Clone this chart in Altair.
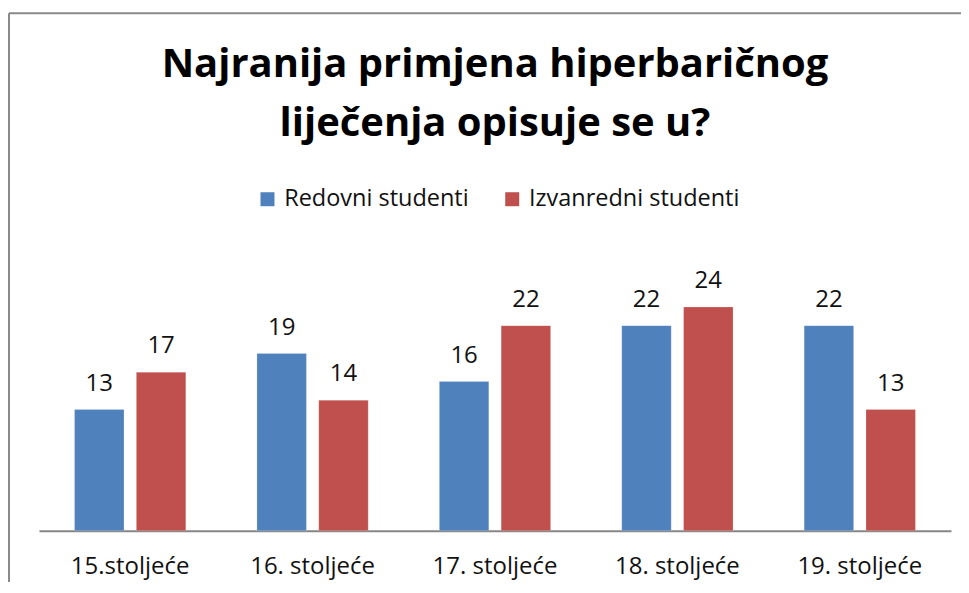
import altair as alt
import pandas as pd

categories = ["15.stoljeće", "16. stoljeće", "17. stoljeće", "18. stoljeće", "19. stoljeće"]
series = ["Redovni studenti", "Izvanredni studenti"]
redovni = [13, 19, 16, 22, 22]
izvanredni = [17, 14, 22, 24, 13]
colors = ["#4F81BD", "#C0504D"]

rows = []
for i, c in enumerate(categories):
    rows.append({"cat": c, "series": series[0], "value": redovni[i]})
    rows.append({"cat": c, "series": series[1], "value": izvanredni[i]})
df = pd.DataFrame(rows)

W, H = 913, 280
FONT = "Open Sans"

x = alt.X("cat:N", sort=categories, title=None,
          scale=alt.Scale(paddingInner=0.39, paddingOuter=0.195),
          axis=alt.Axis(labelAngle=0, labelFontSize=24, labelFont=FONT, labelColor="#111111",
                        labelPadding=24, ticks=False, domainColor="#868686", domainWidth=2,
                        grid=False))
xo = alt.XOffset("series:N", sort=series, scale=alt.Scale(paddingInner=0.2, paddingOuter=0))
y = alt.Y("value:Q", scale=alt.Scale(domain=[0, 30]), axis=None)

base = alt.Chart(df)
bars = base.mark_bar(stroke="white", strokeWidth=0.5, strokeOpacity=0.4).encode(
    x=x, xOffset=xo, y=y,
    color=alt.Color("series:N", sort=series,
                    scale=alt.Scale(domain=series, range=colors),
                    legend=alt.Legend(title=None, orient="none", direction="horizontal",
                                      legendX=217, legendY=-64, symbolType="square",
                                      symbolSize=196, symbolStrokeWidth=0,
                                      labelFontSize=23.5, labelFont=FONT, labelColor="#111111",
                                      labelLimit=400, columnPadding=31, labelOffset=5)),
)
labels = base.mark_text(baseline="alphabetic", dy=-19, fontSize=24, font=FONT, color="#111111").encode(
    x=x, xOffset=xo, y=y, text="value:Q"
)

frame = pd.DataFrame({"k": [0]})
top_line = alt.Chart(frame).mark_rule(color="#8a8a8a", strokeWidth=2).encode(
    x=alt.value(-30), x2=alt.value(W + 12), y=alt.value(-238))
left_line = alt.Chart(frame).mark_rule(color="#8a8a8a", strokeWidth=2).encode(
    x=alt.value(-30), y=alt.value(-238), y2=alt.value(H + 55))

chart = alt.layer(top_line, left_line, bars, labels).properties(
    width=W, height=H,
    autosize=alt.AutoSizeParams(type="none"),
    padding={"left": 31, "top": 243, "right": 10, "bottom": 51},
    title=alt.TitleParams(["Najranija primjena hiperbaričnog", "liječenja opisuje se u?"],
                          fontSize=40, font=FONT, fontWeight="bold", color="#000000",
                          anchor="middle", lineHeight=59, offset=-132),
).configure_view(stroke=None)

chart.save("out.html", embed_options={"renderer": "svg", "actions": False})
